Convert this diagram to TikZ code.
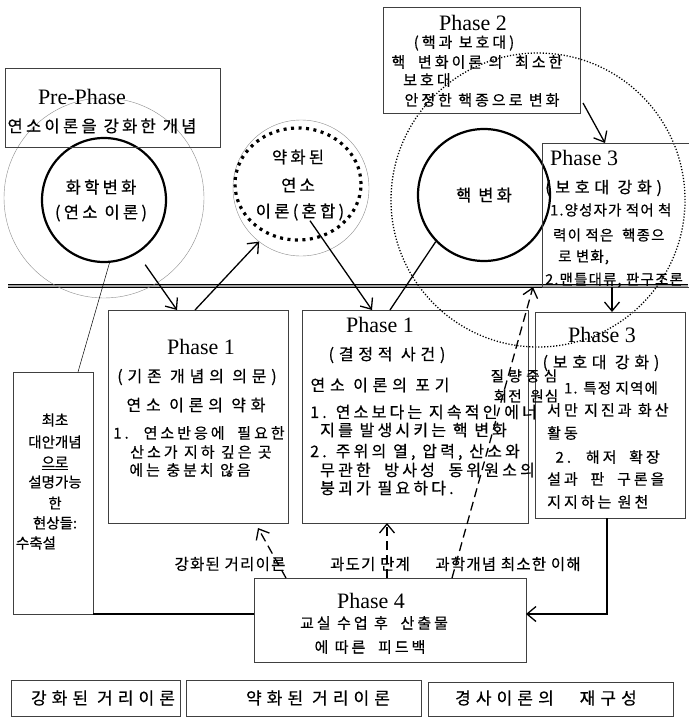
\documentclass[tikz,border=0pt]{standalone}
\usepackage{fontspec}
\setmainfont{Liberation Serif}
\newfontfamily\krA[LetterSpace=20,FakeBold=0.5]{Noto Sans CJK KR}
\newfontfamily\krD[LetterSpace=30,FakeBold=0.5]{Noto Sans CJK KR}
\newfontfamily\krC[LetterSpace=8,FakeBold=0.5]{Noto Sans CJK KR}
\newfontfamily\krB[FakeBold=0.5]{Noto Sans CJK KR}
\usetikzlibrary{arrows.meta,calc,shapes.geometric}
\tikzset{
  box/.style={draw=black!75, line width=0.6pt, inner sep=0pt, outer sep=0pt, anchor=north west},
  kt/.style={font=\krA\fontsize{16.5}{18}\selectfont, inner sep=0pt},
  kh/.style={font=\krD\fontsize{16}{18}\selectfont, inner sep=0pt},
  km/.style={font=\krA\fontsize{16}{18}\selectfont, inner sep=0pt},
  kn/.style={font=\krA\fontsize{15}{17}\selectfont, inner sep=0pt},
  ks/.style={font=\krC\fontsize{14.5}{16}\selectfont, inner sep=0pt},
  kla/.style={font=\krC\fontsize{15.5}{17}\selectfont, inner sep=0pt},
  kb/.style={font=\krD\fontsize{17}{19}\selectfont, inner sep=0pt},
  kl/.style={font=\krB\fontsize{14.5}{16}\selectfont, inner sep=0pt},
  ph/.style={font=\fontsize{22}{24}\selectfont, inner sep=0pt},
  arr/.style={line width=1.3pt, -{Straight Barb[length=9pt,width=15pt,line width=1.3pt]}},
  darr/.style={arr, dash pattern=on 9pt off 5pt},
  plain/.style={line width=1.3pt},
}
\begin{document}
\begin{tikzpicture}[x=1pt,y=-1pt]
\useasboundingbox (0,0) rectangle (688,720);
\fill[white] (0,0) rectangle (688,720);

% double line
\coordinate (dl1) at (8,286);
\coordinate (dl2) at (688,286);
\draw[draw=black, double=black!35, double distance=1.6pt, line width=0.8pt] (dl1) -- (dl2);

% circles
\node[circle, draw=black!45, line width=0.4pt, minimum size=200pt, inner sep=0pt, outer sep=0pt] (chemhalo) at (104,198) {};
\node[circle, draw, line width=2.2pt, minimum size=124pt, inner sep=0pt] (chem) at (104,200) {};
\node[kt] (tc1) at (101,187) {화학변화};
\node[kt] (tc2) at (101,213) {(연소 이론)};

\node[circle, draw=black!45, line width=0.4pt, minimum size=136pt, inner sep=0pt, outer sep=0pt] (weakhalo) at (301,188) {};
\node[ellipse, draw, line width=3.2pt, dash pattern=on 3pt off 4.5pt, minimum width=126pt, minimum height=112pt, inner sep=0pt] (weak) at (298,184) {};
\node[kt] (tw1) at (298,157) {약화된};
\node[kt] (tw2) at (298,185) {연소};
\node[kt] (tw3) at (300,212) {이론(혼합)};

\node[circle, draw, line width=2.2pt, minimum size=132pt, inner sep=0pt] (nuc) at (484,195) {};
\node[kt] (tn) at (484,195) {핵 변화};

\node[circle, draw, line width=1.3pt, dash pattern=on 1.2pt off 1.8pt, minimum size=294pt, inner sep=0pt, outer sep=0pt] (bigc) at (538,200) {};

% Pre-Phase
\node[box, minimum width=215pt, minimum height=79pt] (pre) at (5,68) {};
\node[ph] (tpre1) at (82,97) {Pre-Phase};
\node[kt] (tpre2) at (102,126) {연소이론을 강화한 개념};

% Phase 2
\node[box, minimum width=197pt, minimum height=106pt] (p2) at (383,7) {};
\node[ph] (tp21) at (473,23) {Phase 2};
\node[kn] (tp22) at (464,43) {(핵과 보호대)};
\node[kn] (tp23) at (477,62) {핵 \ 변화이론 의 \ 최소한};
\node[kn, anchor=west] (tp24) at (403,80) {보호대};
\node[kn] (tp25) at (482,100) {안정한 핵종으로 변화};

% Phase 3 upper
\node[box, minimum width=150pt, minimum height=144pt] (p3u) at (542,143) {};
\node[ph, anchor=west] (t3u1) at (550,158) {Phase 3};
\node[kh, anchor=west] (t3u2) at (545,188) {(보호대 강화)};
\node[ks, anchor=west] (t3u3) at (550,210) {1.양성자가 적어 척};
\node[ks, anchor=west] (t3u4) at (553,235) {력이 적은 \ 핵종으};
\node[ks, anchor=west] (t3u5) at (558,257) {로 변화,};
\node[ks, anchor=west] (t3u6) at (545,280) {2.맨틀대류, 판구조론};

% Phase 1 left
\node[box, minimum width=180pt, minimum height=213pt] (p1l) at (108,310) {};
\node[ph] (t1l1) at (201,347) {Phase 1};
\node[kh] (t1l2) at (197,377) {(기존 개념의 의문)};
\node[kh] (t1l3) at (196,405) {연소 이론의 약화};
\node[kn] (t1l4) at (199,433) {1. \ 연소반응에 \ 필요한};
\node[kn] (t1l5) at (201,452) {산소가 지하 깊은 곳};
\node[kn] (t1l6) at (190,470) {에는 충분치 않음};

% Phase 1 middle
\node[box, minimum width=226pt, minimum height=213pt] (p1m) at (302,310) {};
\node[ph] (t1m1) at (380,325) {Phase 1};
\node[kh] (t1m2) at (387,355) {(결정적 사건)};
\node[kh] (t1m3) at (380,385) {연소 이론의 포기};
\node[km, anchor=west] (t1m4) at (310,412) {1. 연소보다는 지속적인 에너};
\node[km, anchor=west] (t1m5) at (320,430) {지를 발생시키는 핵 변화};
\node[km, anchor=west] (t1m6) at (310,452) {2. 주위의 열, 압력, 산소와};
\node[km, anchor=west] (t1m7) at (320,470) {무관한 \ 방사성 \ 동위원소의};
\node[km, anchor=west] (t1m8) at (320,488) {붕괴가 필요하다.};

% Phase 3 lower
\node[box, minimum width=150pt, minimum height=206pt] (p3l) at (535,312) {};
\node[ph] (t3l1) at (602,335) {Phase 3};
\node[kh] (t3l2) at (601,363) {(보호대 강화)};
\node[ks, anchor=west] (t3l3) at (564,388) {1. 특정 지역에};
\node[kn, anchor=west] (t3l4) at (547,410) {서만 지진과 화산};
\node[kn, anchor=west] (t3l5) at (547,433) {활동};
\node[kn, anchor=east] (t3l6) at (660,457) {2. \ 해저 \ 확장};
\node[kn, anchor=west] (t3l7) at (547,479) {설과 \ 판 \ 구론을};
\node[kn, anchor=west] (t3l8) at (547,502) {지지하는 원천};

% overlapping labels
\node[ks] (tq1) at (524,376) {질 량 중 심};
\node[ks] (tq2) at (526,396) {회전 \ 원심};

% left box
\node[box, minimum width=80pt, minimum height=242pt] (lb) at (13,372) {};
\node[kl] (tl1) at (55,420) {최초};
\node[kl] (tl2) at (55,442) {대안개념};
\node[kl] (tl3) at (55,463) {\underline{으로}};
\node[kl] (tl4) at (55,482) {설명가능};
\node[kl] (tl5) at (55,503) {한};
\node[kl] (tl6) at (55,523) {현상들:};
\node[kl] (tl7) at (36,543) {수축설};

% Phase 4
\node[box, minimum width=272pt, minimum height=84pt] (p4) at (254,578) {};
\node[ph] (t41) at (371,601) {Phase 4};
\node[kn] (t42) at (374,623) {교실 수업 후 \ 산출물};
\node[kn] (t43) at (370,647) {에 따른 \ 피드백};

% labels above Phase 4
\node[kla] (la1) at (230,564) {강화된 거리이론};
\node[kla] (la2) at (370,564) {과도기 단계};
\node[kla] (la3) at (508,564) {과학개념 최소한 이해};

% bottom boxes
\node[box, minimum width=169pt, minimum height=36pt] (b1) at (11,680) {};
\node[box, minimum width=235pt, minimum height=36pt] (b2) at (186,680) {};
\node[box, minimum width=245pt, minimum height=34pt] (b3) at (428,682) {};
\node[kb] (tb1) at (103,698) {강화된 거리이론};
\node[kb] (tb2) at (318,698) {약화된 거리이론};
\node[kb] (tb3) at (546,698) {경사이론의 \quad 재구성};

% connectors
\draw[line width=0.5pt] (chem.-85) -- ([xshift=65pt]lb.north west);
\draw[arr] ([shift={(5,13)}]chem.-55) -- ([xshift=69pt]p1l.north west);
\draw[arr] ([xshift=87pt]p1l.north west) -- (weakhalo.-128);
\draw[arr] ([xshift=10pt]tw3.south) -- ([xshift=70pt]p1m.north west);
\draw[plain] ([xshift=88pt]p1m.north west) -- (nuc.-136);
\draw[arr] ([shift={(3,-10)}]p2.south east) -- ([xshift=63pt]p3u.north west);
\draw[arr] ([xshift=70pt]p3u.south west) -- ([xshift=77pt]p3l.north west);
\coordinate (dtip) at (533,287);
\draw[darr] ([xshift=198pt]p4.north west) -- (dtip);
\draw[darr] ([xshift=133pt]p4.north west) -- ([xshift=85pt]p1m.south west);
\draw[darr] ([xshift=32pt]p4.north west) -- ([shift={(-30,5)}]p1l.south east);
\draw[plain] ([shift={(0,-6)}]p4.west) -- ([shift={(0,-6)}]p4.west -| lb.east);
\draw[arr] ([xshift=72pt]p3l.south west) |- ([shift={(0,-6)}]p4.east);
\end{tikzpicture}
\end{document}
